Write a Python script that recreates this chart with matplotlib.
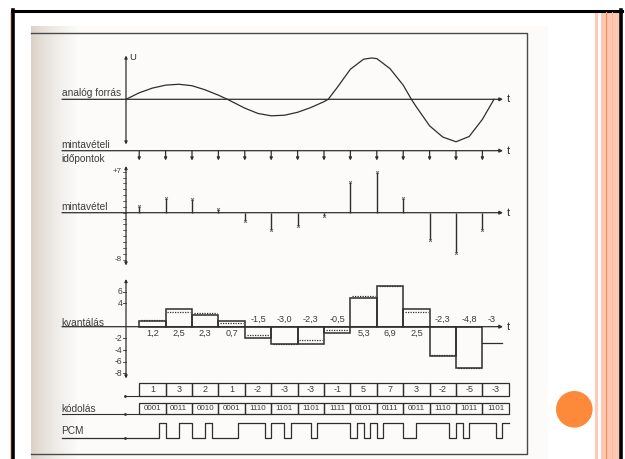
import numpy as np
import matplotlib
matplotlib.use('Agg')
import matplotlib.pyplot as plt
from matplotlib.patches import Rectangle, Circle

# ---------------- Data ----------------
# analog source curve, t in sample periods (axis at 0), U in sample units
analog_t = [0, 0.5, 1, 1.5, 2, 2.5, 3, 3.5, 3.84, 4.5, 5, 5.5, 6, 6.5, 7, 7.5, 7.66,
            8, 8.5, 9, 9.3, 9.5, 10, 10.5, 10.81, 11, 11.5, 12, 12.5, 13, 13.5, 13.94]
analog_u = [0, 1.1, 1.9, 2.4, 2.55, 2.3, 1.6, 0.7, 0, -1.5, -2.4, -2.8, -2.7, -2.2, -1.4,
            -0.4, 0, 2.0, 5.1, 6.8, 7.0, 6.9, 5.2, 2.4, 0, -1.3, -4.5, -6.4, -7.2, -6.3, -3.4, 0]

sample_drawn = [1.2, 2.5, 2.3, 0.7, -1.5, -3.0, -2.3, -0.5, 5.3, 6.9, 2.5, -4.7, -6.9, -2.9]
quant_true = [1.2, 2.5, 2.3, 0.7, -1.5, -3.0, -2.3, -0.5, 5.3, 6.9, 2.5, -4.8, -7.0]
quant_level = [1, 3, 2, 1, -2, -3, -3, -1, 5, 7, 3, -5, -7]
quant_last = -2.75
quant_labels = ['1,2', '2,5', '2,3', '0,7', '-1,5', '-3,0', '-2,3', '-0,5',
                '5,3', '6,9', '2,5', '-2,3', '-4,8', '-3']
code_values = ['1', '3', '2', '1', '-2', '-3', '-3', '-1', '5', '7', '3', '-2', '-5', '-3']
code_bits = ['0001', '0011', '0010', '0001', '1110', '1101', '1101', '1111',
             '0101', '0111', '0011', '1110', '1011', '1101']
quant_ticks = [6, 4, -2, -4, -6, -8]

# ---------------- Layout ----------------
W, H = 625, 459
PX_AXIS, PX_STEP = 126, 26.4
X_LEFT, X_RIGHT = 31, 548
INK = '#2e2e2e'
TXT = '#3c3c3c'

plt.rcParams['font.family'] = ['Liberation Sans Narrow', 'Liberation Sans', 'DejaVu Sans']

fig = plt.figure(figsize=(W / 100, H / 100), dpi=100)


def to_t(px):
    return (px - PX_AXIS) / PX_STEP


def panel(top, bottom, zero, unit):
    ax = fig.add_axes([X_LEFT / W, 1 - bottom / H, (X_RIGHT - X_LEFT) / W, (bottom - top) / H])
    ax.set_xlim(to_t(X_LEFT), to_t(X_RIGHT))
    ax.set_ylim((zero - bottom) / unit, (zero - top) / unit)
    ax.axis('off')
    return ax


def arrow(ax, x0, y0, x1, y1, style='-|>', ms=5):
    ax.annotate('', xy=(x1, y1), xytext=(x0, y0),
                arrowprops=dict(arrowstyle=style, color=INK, lw=0.9,
                                mutation_scale=ms, shrinkA=0, shrinkB=0))


def t_axis(ax):
    arrow(ax, to_t(62), 0, to_t(503), 0)
    ax.text(to_t(508.5), 0, 't', fontsize=8, color=INK, ha='center', va='center')


# ---------------- Slide background ----------------
bg = fig.add_axes([0, 0, 1, 1])
bg.set_xlim(0, W)
bg.set_ylim(H, 0)
bg.axis('off')

grad = np.linspace(0, 1, 80) ** 0.7
c0 = np.array([0.85, 0.81, 0.77])
c1 = np.array([0.988, 0.986, 0.982])
img = (c0[None, :] * (1 - grad[:, None]) + c1[None, :] * grad[:, None])[None, :, :]
bg.imshow(img, extent=(31, 78, H, 26), aspect='auto', zorder=0)
bg.add_patch(Rectangle((78, 26), X_RIGHT - 78, H - 26, color=c1, lw=0, zorder=0))

# diagram frame of the scan
bg.plot([31, 527, 527, 31], [33.3, 33.3, 454, 454], color='#4a4a4a', lw=1.0)

# slide frame
bg.add_patch(Rectangle((9.5, 12), 1.6, H, color='#ffc4ae', lw=0))
bg.plot([13.3, 13.3], [9.5, H], color='black', lw=2.6)
bg.plot([620.5, 620.5], [9.5, H], color='black', lw=2.6)
bg.plot([12, 622], [10.7, 10.7], color='black', lw=2.2)
bg.add_patch(Rectangle((595, 12), 2.5, H, color='#ffc9b5', lw=0))
bg.add_patch(Rectangle((601, 12), 18, H, color='#ffc7b2', lw=0))
bg.plot([606.3, 606.3], [12, H], color='#ff8a48', lw=0.8)
bg.plot([611.5, 611.5], [12, H], color='#ffb79d', lw=0.6)
bg.add_patch(Circle((574.3, 409.3), 18.3, color='#fd8a3b', lw=0))

# row labels
for label, y in [('analóg forrás', 92.7), ('mintavételi', 145), ('időpontok', 158.5),
                 ('mintavétel', 207), ('kvantálás', 323), ('kódolás', 409.3), ('PCM', 431)]:
    bg.text(61.5, y, label, fontsize=7.3, color=TXT, ha='left', va='center')

sample_t = np.arange(len(sample_drawn)) + 0.5

# ---------------- Analog source ----------------
ax_a = panel(40, 150, 99.3, 5.9)
t_axis(ax_a)
arrow(ax_a, 0, (99.3 - 144.5) / 5.9, 0, (99.3 - 55.5) / 5.9, style='<|-|>', ms=4)
ax_a.text(to_t(129.5), (99.3 - 58) / 5.9, 'U', fontsize=6.8, color=INK, ha='left', va='center')
ax_a.plot(analog_t, analog_u, color=INK, lw=0.9)

# ---------------- Sampling instants ----------------
ax_s = panel(140, 168, 150.7, 1.0)
t_axis(ax_s)
for t in sample_t:
    arrow(ax_s, t, 0, t, -9.8, ms=4)

# ---------------- Sampling ----------------
U_M = 5.86
ax_m = panel(160, 272, 212.7, U_M)
t_axis(ax_m)
arrow(ax_m, 0, (212.7 - 265.5) / U_M, 0, (212.7 - 166) / U_M, style='<|-|>', ms=4)
for v in range(-8, 8):
    ax_m.plot([to_t(123.3), 0], [v, v], color=INK, lw=0.5)
ax_m.text(to_t(121.5), 7, '+7', fontsize=5.8, color=TXT, ha='right', va='center')
ax_m.text(to_t(121.5), -8, '-8', fontsize=5.8, color=TXT, ha='right', va='center')
ax_m.vlines(sample_t, 0, sample_drawn, color=INK, lw=1.0)
ax_m.plot(sample_t, sample_drawn, 'x', color='#666666', ms=2.0, mew=0.6)

# ---------------- Quantisation ----------------
U_Q = 5.83
ax_q = panel(275, 382, 326.7, U_Q)
t_axis(ax_q)
arrow(ax_q, 0, (326.7 - 378.5) / U_Q, 0, (326.7 - 279) / U_Q, style='<|-|>', ms=4)
for v in quant_ticks:
    ax_q.plot([to_t(122.8), 0], [v, v], color=INK, lw=0.6)
    ax_q.text(to_t(122.5), v, str(v), fontsize=6.2, color=TXT, ha='right', va='center')
bar_t = sample_t[:-1] + 0.5
ax_q.bar(bar_t, quant_level, width=1, fill=False, edgecolor=INK, lw=1.1)
ax_q.plot([sample_t[-1], to_t(502)], [quant_last, quant_last], color=INK, lw=0.9)
ax_q.hlines(quant_true, sample_t[:-1] + 0.07, sample_t[:-1] + 0.93,
            colors=INK, lw=0.9, linestyles=(0, (1, 1)))
label_t = list(bar_t) + [to_t(492)]
for x, lab in zip(label_t, quant_labels):
    y = 1.27 if lab.startswith('-') else -1.13
    ax_q.text(x, y, lab, fontsize=6.6, color=TXT, ha='center', va='center')

# ---------------- Coding and PCM ----------------
ax_c = panel(376, 452, 414, 1.0)
ax_c.bar(sample_t + 0.5, 13.3, bottom=18, width=1, fill=False, edgecolor=INK, lw=0.9)
ax_c.bar(sample_t + 0.5, 10.7, bottom=0, width=1, fill=False, edgecolor=INK, lw=0.9)
for x, val, bits in zip(sample_t + 0.5, code_values, code_bits):
    ax_c.text(x, 24.6, val, fontsize=6.5, color=TXT, ha='center', va='center')
    ax_c.text(x, 5.3, bits, fontsize=5.8, color=TXT, ha='center', va='center')
ax_c.plot([to_t(125), sample_t[0]], [18, 18], color=INK, lw=0.8)
ax_c.plot([to_t(62), sample_t[0]], [0, 0], color=INK, lw=0.8)

PCM_LOW, PCM_HIGH = -23.7, -9.3
bits = ''.join(code_bits)
xs = np.concatenate([[to_t(62)], sample_t[0] + np.arange(len(bits) + 1) * 0.25])
ys = [PCM_LOW] + [PCM_HIGH if b == '1' else PCM_LOW for b in bits]
ys.append(ys[-1])
ax_c.step(xs, ys, where='post', color=INK, lw=0.9)
ax_c.plot([to_t(125)] * 3, [18, 0, PCM_LOW], '.', color=INK, ms=2)

fig.savefig('out.png', dpi=100)
